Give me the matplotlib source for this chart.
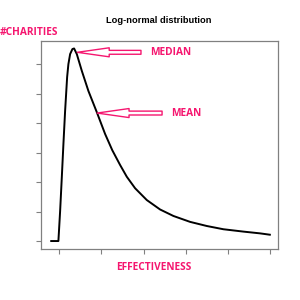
import matplotlib
matplotlib.use('Agg')
import matplotlib.pyplot as plt

# curve (x in tick units, y in tick units)
effectiveness = [-0.21, -0.017, 0.024, 0.064, 0.102, 0.142, 0.190, 0.220, 0.261,
                 0.315, 0.355, 0.419, 0.538, 0.694, 0.893, 1.09, 1.26, 1.445,
                 1.604, 1.801, 2.078, 2.393, 2.709, 3.104, 3.50, 3.893, 4.367,
                 4.763, 5.017]
charities = [0.0, 0.0, 1.02, 2.17, 3.29, 4.41, 5.56, 6.0, 6.34,
             6.51, 6.53, 6.34, 5.77, 5.09, 4.37, 3.63, 3.08, 2.58,
             2.18, 1.79, 1.39, 1.07, 0.85, 0.65, 0.51, 0.40, 0.32,
             0.26, 0.21]
x_ticks = [0, 1, 2, 3, 4, 5]
y_ticks = [0, 1, 2, 3, 4, 5, 6]

# where the arrows point: (label, tip x, tip y, tail x)
markers = [('MEDIAN', 0.43, 6.4, 1.94), ('MEAN', 0.90, 4.34, 2.44)]

PINK = '#f5166f'
LABEL_FONT = dict(color=PINK, fontsize=7.3, fontweight='bold', family='Open Sans')

def main():
    fig = plt.figure(figsize=(3, 3), dpi=100)
    ax = fig.add_axes([0.137, 0.17, 0.79, 0.693])
    ax.plot(effectiveness, charities, color='black', lw=1.4,
            solid_joinstyle='round', solid_capstyle='butt')
    ax.set_xlim(-0.427, 5.19)
    ax.set_ylim(-0.27, 6.78)
    ax.set_xticks(x_ticks)
    ax.set_yticks(y_ticks)
    ax.set_xticklabels([])
    ax.set_yticklabels([])
    ax.tick_params(direction='out', length=3.6, width=0.8, color='#808080')
    for s in ax.spines.values():
        s.set_color('#808080')
        s.set_linewidth(0.9)

    for label, tx, ty, sx in markers:
        ax.annotate('', xy=(tx, ty), xytext=(sx, ty),
                    arrowprops=dict(arrowstyle='simple,head_length=23,head_width=6.5,tail_width=2.8',
                                    mutation_scale=1, fc='white', ec=PINK, lw=1.0,
                                    shrinkA=0, shrinkB=0))
        ax.text(sx + 0.22, ty, label, ha='left', va='center', **LABEL_FONT)

    fig.text(0.53, 0.933, 'Log-normal distribution', ha='center', va='center',
             fontsize=6.7, fontweight='bold', family='Liberation Sans')
    fig.text(0.0, 0.893, '#CHARITIES', ha='left', va='center', **LABEL_FONT)
    fig.text(0.513, 0.11, 'EFFECTIVENESS', ha='center', va='center', **LABEL_FONT)

    fig.savefig('out.png', dpi=100, facecolor='white')

if __name__ == '__main__':
    main()
